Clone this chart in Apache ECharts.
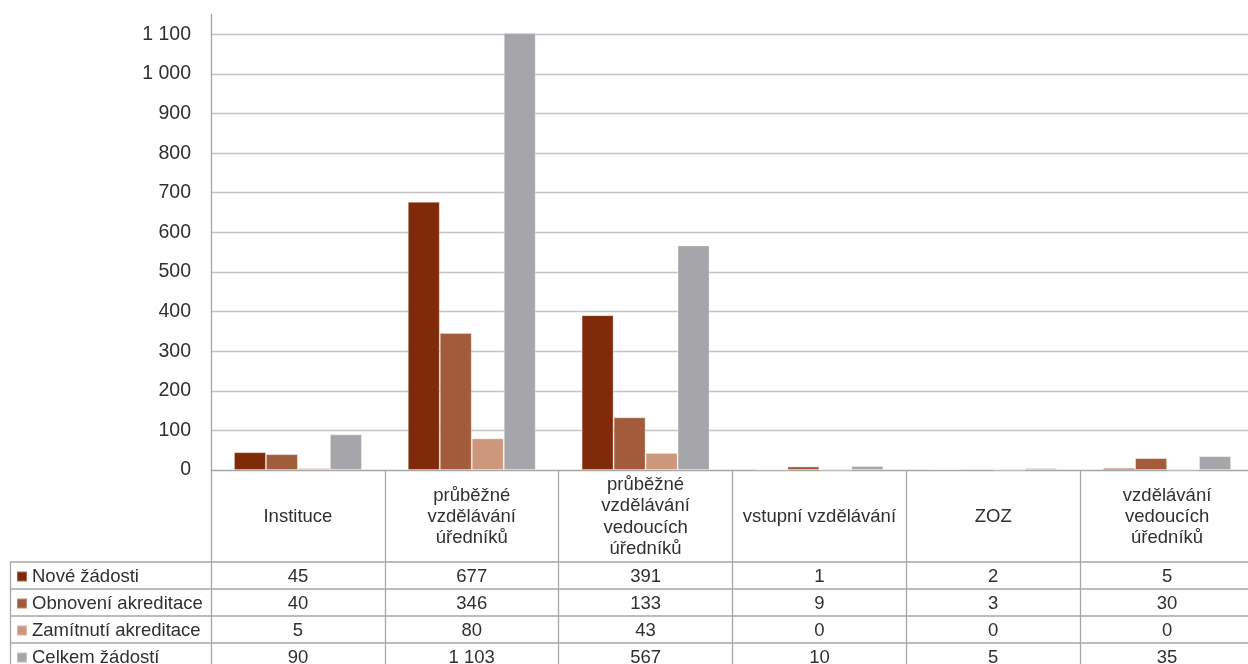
<!DOCTYPE html>
<html>
<head>
<meta charset="utf-8">
<script src="https://cdn.jsdelivr.net/npm/echarts@6/dist/echarts.min.js"></script>
<style>html,body{margin:0;padding:0;background:#fff;}#c{width:1248px;height:664px;}</style>
</head>
<body>
<div id="c"></div>
<script>
const categories = ['Instituce', 'průběžné\nvzdělávání\núředníků', 'průběžné\nvzdělávání\nvedoucích\núředníků', 'vstupní vzdělávání', 'ZOZ', 'vzdělávání\nvedoucích\núředníků'];
const seriesNames = ['Nové žádosti', 'Obnovení akreditace', 'Zamítnutí akreditace', 'Celkem žádostí'];
const noveZadosti = [45, 677, 391, 1, 2, 5];
const obnoveniAkreditace = [40, 346, 133, 9, 3, 30];
const zamitnutiAkreditace = [5, 80, 43, 0, 0, 0];
const celkemZadosti = [90, 1103, 567, 10, 5, 35];
const yMin = 0, yMax = 1150, yInterval = 100;

const allSeries = [noveZadosti, obnoveniAkreditace, zamitnutiAkreditace, celkemZadosti];
const colors = ['#7f2b0a', '#a25b3b', '#cc977d', '#a6a6aa'];
const FONT = '"Liberation Sans", Arial, sans-serif';
const TXT = '#303030';
const LINE = '#a6a6a6';

function fmt(v) { return String(v).replace(/\B(?=(\d{3})+(?!\d))/g, ' '); }

// layout
const gridLeft = 211, gridTop = 14.5, gridBottomY = 470, gridWidth = 1043;
const headerH = 92, rowH = 27, textNudge = 1;
const W = 1248, H = 664;

const chart = echarts.init(document.getElementById('c'), null, {renderer: 'canvas'});

const xAxes = [{
  type: 'category', data: categories, gridIndex: 0, position: 'bottom',
  axisLine: {show: true, lineStyle: {color: LINE, width: 1.3}},
  axisTick: {show: true, alignWithLabel: false, length: 210, lineStyle: {color: LINE, width: 1.3}},
  axisLabel: {show: true, interval: 0, margin: headerH / 2 + textNudge, verticalAlign: 'middle', align: 'center',
    fontSize: 18.5, lineHeight: 21.3, color: TXT, fontFamily: FONT}
}];
allSeries.forEach((arr, k) => {
  xAxes.push({
    type: 'category', data: categories, gridIndex: 0, position: 'bottom',
    offset: headerH + rowH * k + rowH / 2,
    axisLine: {show: false}, axisTick: {show: false}, splitLine: {show: false},
    axisLabel: {show: true, interval: 0, margin: textNudge, verticalAlign: 'middle', align: 'center',
      fontSize: 18.5, color: TXT, fontFamily: FONT,
      formatter: (val, idx) => fmt(arr[idx])}
  });
});

const graphics = [];
for (let k = 0; k < 4; k++) {
  const y = gridBottomY + headerH + rowH * k;
  graphics.push({type: 'line', silent: true, z: 50,
    shape: {x1: 10, y1: y, x2: W, y2: y}, style: {stroke: LINE, lineWidth: 1.3}});
}
graphics.push({type: 'line', silent: true, z: 50,
  shape: {x1: 10.5, y1: gridBottomY + headerH, x2: 10.5, y2: H}, style: {stroke: LINE, lineWidth: 1.3}});

const legendLH = 20;
chart.setOption({
  animation: false,
  backgroundColor: '#ffffff',
  textStyle: {fontFamily: FONT},
  grid: {left: gridLeft, top: gridTop, width: gridWidth, height: gridBottomY - gridTop,
    containLabel: false, outerBoundsMode: 'none'},
  legend: {
    orient: 'vertical', left: 16, top: gridBottomY + headerH + rowH / 2 - legendLH / 2 + textNudge, padding: 0,
    height: 140,
    itemGap: rowH - legendLH, itemWidth: 10, itemHeight: 10, icon: 'rect',
    textStyle: {fontSize: 18.5, lineHeight: legendLH, color: TXT, fontFamily: FONT},
    data: seriesNames
  },
  xAxis: xAxes,
  yAxis: {
    type: 'value', min: yMin, max: yMax, interval: yInterval,
    axisLine: {show: true, lineStyle: {color: LINE, width: 1.3}},
    axisTick: {show: false},
    splitLine: {show: true, showMaxLine: false, showMinLine: false, lineStyle: {color: '#c4c4c4', width: 1.3}},
    axisLabel: {margin: 20, fontSize: 19.5, color: TXT, fontFamily: FONT, padding: [2 * textNudge, 0, 0, 0],
      showMaxLabel: false, formatter: v => fmt(v)}
  },
  graphic: graphics,
  series: allSeries.map((arr, k) => ({
    name: seriesNames[k], type: 'bar', data: arr, xAxisIndex: 0,
    barGap: '0%', barCategoryGap: '26.4%',
    itemStyle: {color: colors[k], borderColor: 'rgba(255,255,255,0.3)', borderWidth: 1}
  }))
});
</script>
</body>
</html>
